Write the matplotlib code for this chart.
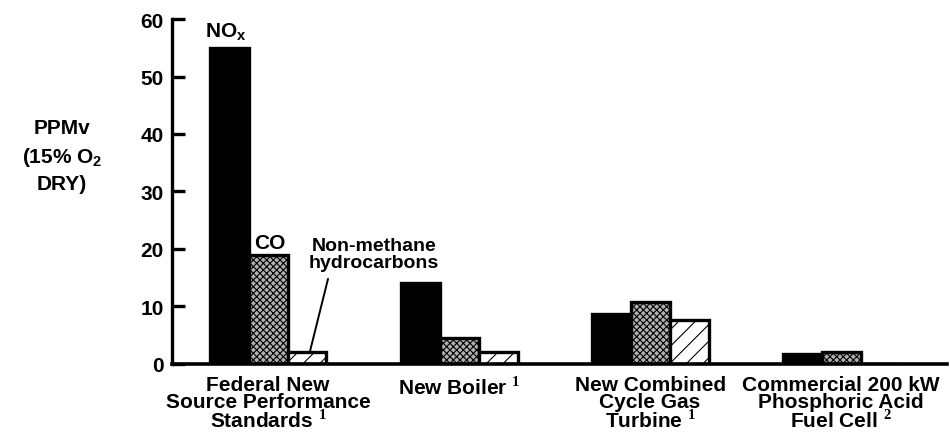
import matplotlib
matplotlib.use("Agg")
import matplotlib.pyplot as plt
import numpy as np

plt.rcParams["font.family"] = ["Liberation Sans", "DejaVu Sans"]
plt.rcParams["font.weight"] = "bold"
plt.rcParams["mathtext.fontset"] = "custom"
plt.rcParams["mathtext.rm"] = "Liberation Serif"
plt.rcParams["mathtext.sf"] = "Liberation Sans:bold"
plt.rcParams["hatch.linewidth"] = 0.8

categories = [
    "Federal New\nSource Performance\nStandards $^{1}$",
    "New Boiler $^{1}$",
    "New Combined\nCycle Gas\nTurbine $^{1}$",
    "Commercial 200 kW\nPhosphoric Acid\nFuel Cell $^{2}$",
]
nox = [55, 14, 8.7, 1.7]
co = [19, 4.5, 10.8, 2.1]
nmhc = [2, 2, 7.7, 0]

fig = plt.figure(figsize=(9.5, 4.35), dpi=100)
ax = fig.add_axes([0.181, 0.161, 0.816, 0.793])

x = np.arange(len(categories))
w = 0.204
edge = dict(edgecolor="black", linewidth=2.4)
ax.bar(x - w, nox, w, color="black", **edge)
ax.bar(x, co, w, color="#b0b0b0", hatch="xxxxx", **edge)
ax.bar(x + w, nmhc, w, color="white", hatch="//", **edge)

ax.set_xlim(-0.503, 3.555)
ax.set_ylim(0, 60)
ax.set_yticks(range(0, 61, 10))
ax.set_xticks(x, categories)
ax.tick_params(axis="x", length=0, pad=8, labelsize=15)
ax.tick_params(axis="y", direction="in", length=9, width=2.4, pad=6,
               labelsize=15)
for lab in ax.get_xticklabels():
    lab.set_linespacing(0.86)
    lab.set_multialignment("center")
for s in ("top", "right"):
    ax.spines[s].set_visible(False)
ax.spines["left"].set_linewidth(2.4)
ax.spines["bottom"].set_linewidth(2.6)

# series labels
ax.text(x[0] - 0.33, 57, "NO$_{\\mathsf{x}}$", fontsize=15,
        ha="left", va="baseline")
ax.text(x[0] - 0.073, 20.2, "CO", fontsize=15, ha="left", va="baseline")
ax.text(x[0] + 0.555, 16.2, "Non-methane\nhydrocarbons", fontsize=14,
        ha="center", va="bottom", linespacing=0.95)
ax.annotate("", xy=(x[0] + w * 1.08, nmhc[0] + 0.3),
            xytext=(x[0] + 0.314, 14.8),
            arrowprops=dict(arrowstyle="-", color="black", lw=1.4,
                            shrinkA=0, shrinkB=0))

fig.text(0.065, 0.64, "PPMv\n(15% O$_{\\mathsf{2}}$\nDRY)", fontsize=15,
         ha="center", va="center", linespacing=1.45)

fig.savefig("out.png", dpi=100)
